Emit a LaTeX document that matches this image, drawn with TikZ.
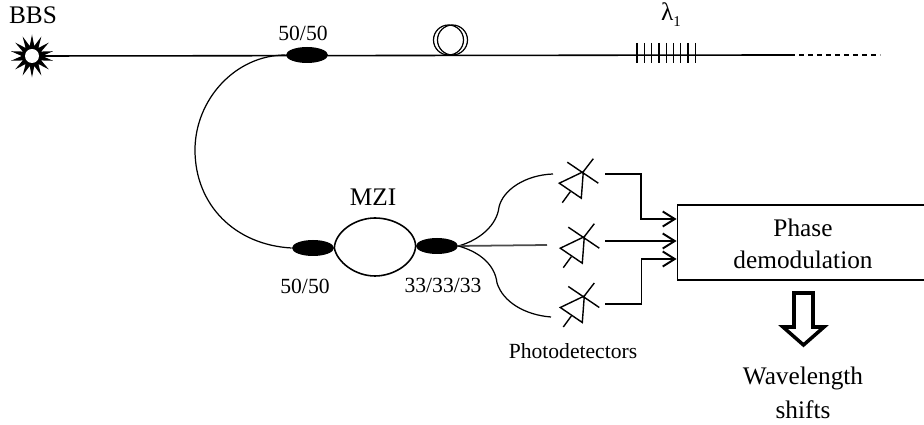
\documentclass[tikz,border=0pt]{standalone}
\usepackage{fontspec}
\setmainfont{Liberation Serif}
\usetikzlibrary{arrows.meta,shapes.geometric}
\tikzset{
  biglabel/.style={font=\fontsize{14.4}{18}\selectfont,align=center,inner sep=0pt},
  smalllabel/.style={font=\fontsize{12.3}{15}\selectfont,inner sep=0pt},
  coupler/.style={ellipse,fill=black,inner sep=0pt,minimum width=0.84cm,minimum height=0.32cm},
  fiber/.style={line width=0.7pt},
  wire/.style={line width=0.9pt},
  outarrow/.style={line width=1.1pt,-{Straight Barb[length=0.24cm,width=0.3cm]}},
  pics/photodiode/.style={code={
    \draw[line width=0.8pt,line join=miter] (-24,11.5) -- (-2,26.5) -- (0,0) -- cycle;
    \draw[line width=0.8pt] (-16,-9.5) -- (15,11.5);
    \draw[line width=0.8pt] (0,0) -- (10,-13);
    \draw[line width=0.8pt] (-13,20) -- (-21,31);
  }}
}
\begin{document}
\begin{tikzpicture}[x=0.02cm,y=-0.02cm]
  \useasboundingbox (0,0) rectangle (924,425);

  % source and top fibre
  \node[star,star points=14,star point ratio=2.1,fill=black,inner sep=0pt,minimum size=0.86cm] (bbs) at (32,56) {};
  \fill[white] (bbs.center) circle (7);
  \node[biglabel] (bbslabel) at (33,15) {BBS};
  \node[coupler] (ctop) at (307,55) {};
  \coordinate (fiberend) at (775,55);
  \coordinate (dashend) at (880,55);
  \draw[wire] (bbs.east) -- (fiberend);
  \draw[wire] (fiberend) -- (790,55);
  \draw[fiber,dash pattern=on 0.1cm off 0.08cm] (790,55) -- (dashend);
  \node[smalllabel] (toplabel) at (303,33) {50/50};

  % coil
  \draw[fiber] (448.5,40) circle (15);
  \draw[fiber] (452.5,40) circle (15);

  % grating
  \foreach \x in {0,...,8}
    \draw[fiber] (637+7.3*\x,43) -- (637+7.3*\x,63);
  \node[biglabel,font=\fontsize{14.4}{18}\selectfont] (lambdalabel) at (671,15) {λ\raisebox{-0.5ex}{\fontsize{8.5}{8.5}\selectfont 1}};

  % interferometer
  \node[coupler] (cleft) at (313,248) {};
  \node[coupler] (cright) at (437,246) {};
  \draw[fiber] (ctop.west) .. controls (235,55) and (195,100) .. (195,150) .. controls (195,205) and (235,245) .. (cleft.west);
  \draw[wire] (cleft.east) .. controls (335,232) and (355,218) .. (375,218) .. controls (395,218) and (415,230) .. (cright.west);
  \draw[wire] (cleft.east) .. controls (337,262) and (355,276) .. (375,276) .. controls (395,276) and (415,262) .. (cright.west);
  \node[biglabel] (mzilabel) at (373,197) {MZI};
  \node[smalllabel] (leftlabel) at (305,286) {50/50};
  \node[smalllabel] (rightlabel) at (443,285) {33/33/33};

  % photodiodes
  \coordinate (pda) at (553,174);
  \coordinate (pdb) at (547,245);
  \coordinate (pdc) at (551,317);
  \draw[fiber] (cright.east) .. controls (480,240) and (497,225) .. (499,207) .. controls (503,190) and (525,175) .. (pda);
  \draw[line width=1pt,black!70] (cright.east) -- (pdb);
  \draw[fiber] (cright.east) .. controls (480,252) and (495,265) .. (497,283) .. controls (503,302) and (525,315) .. (pdc);
  \pic at (583.3,171.7) {photodiode};
  \pic at (584.3,236.7) {photodiode};
  \pic at (584.3,296) {photodiode};
  \node[smalllabel] (pdlabel) at (573,351) {Photodetectors};

  % demodulation
  \node[draw,line width=1.1pt,minimum width=5.06cm,minimum height=1.5cm,inner sep=0pt] (demod) at (804,242.5) {};
  \node[biglabel] (phase) at (803,228) {Phase};
  \node[biglabel] (demodtext) at (803,260) {demodulation};
  \coordinate (outa) at (605,174);
  \coordinate (outb) at (605,241);
  \coordinate (outc) at (605,304);
  \coordinate (ina) at (demod.west |- 0,219);
  \coordinate (inb) at (demod.west |- 0,241);
  \coordinate (inc) at (demod.west |- 0,259);
  \draw[outarrow] (outa) -- (641,174) -- (641,219) -- (ina);
  \draw[outarrow] (outb) -- (inb);
  \draw[outarrow] (outc) -- (641.5,304) -- (641.5,259) -- (inc);

  % result
  \draw[line width=2pt,miter limit=10] (794,293) -- (813,293) -- (813,327) -- (824,327) -- (803.5,345) -- (783,327) -- (794,327) -- cycle;
  \node[biglabel] (wavelength) at (803,378) {Wavelength};
  \node[biglabel] (shifts) at (803,410) {shifts};
\end{tikzpicture}
\end{document}
